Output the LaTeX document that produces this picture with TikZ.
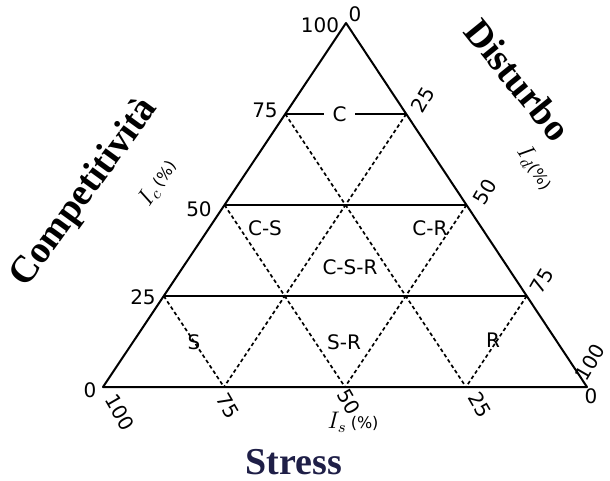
\documentclass[tikz,border=0pt]{standalone}
\usepackage{fontspec}
\setmainfont{Liberation Serif}
\newfontfamily\labfont{DejaVu Sans}
\usetikzlibrary{calc}
\definecolor{stressblue}{rgb}{0.12,0.12,0.28}

\tikzset{
  ticklab/.style={font=\labfont\fontsize{10}{12}\selectfont, inner sep=0pt},
  zone/.style={font=\labfont\fontsize{10}{12}\selectfont, inner sep=1pt},
  axislab/.style={font=\fontsize{12}{14}\selectfont, inner sep=0pt},
  bigtitle/.style={font=\bfseries\fontsize{19}{22}\selectfont, inner sep=0pt},
  gridline/.style={line width=0.85pt, dash pattern=on 1.8pt off 1.4pt},
  side/.style={line width=1pt, line join=round},
}
\newcommand{\pct}{{\labfont\fontsize{8}{9}\selectfont(\%)}}

\begin{document}
\begin{tikzpicture}[x=0.5pt,y=-0.5pt]
        \useasboundingbox (0,0) rectangle (610,481);

        \coordinate (A) at (103,387);
        \coordinate (B) at (587,387);
        \coordinate (T) at (346,23);
        \foreach \f/\n in {0.25/25,0.5/50,0.75/75} {
            \coordinate (l\n) at ($(A)!\f!(T)$);
            \coordinate (r\n) at ($(B)!\f!(T)$);
            \coordinate (b\n) at ($(A)!\f!(B)$);
        }

        % triangle and levels
        \draw[side] (A) -- (B) -- (T) -- cycle;
        \draw[side] (l25) -- (r25);
        \draw[side] (l50) -- (r50);
        \node[zone, inner sep=4pt] (c) at ($(l75)!0.45!(r75)$) {C};
        \draw[side] (l75) -- (c) -- (r75);

        \draw[gridline] (l75) -- (b75);
        \draw[gridline] (l50) -- (b50);
        \draw[gridline] (l25) -- (b25);
        \draw[gridline] (r75) -- (b25);
        \draw[gridline] (r50) -- (b50);
        \draw[gridline] (r25) -- (b75);

        % zones
        \node[zone] (cs) at (265,228) {C-S};
        \node[zone] (cr) at (430,228) {C-R};
        \node[zone] (csr) at (350,267) {C-S-R};
        \node[zone] (s) at (194,342) {S};
        \node[zone] (sr) at (344,342) {S-R};
        \node[zone] (r) at (493,340) {R};

        % left scale
        \node[ticklab] (lt100) at (320,25) {100};
        \node[ticklab] (lt75) at (265,110) {75};
        \node[ticklab] (lt50) at (199,209) {50};
        \node[ticklab] (lt25) at (143,297) {25};
        \node[ticklab] (lt0) at (90,390) {0};

        % right scale
        \node[ticklab] (rt0) at (355,14) {0};
        \node[ticklab, rotate=60] (rt25) at (423,100) {25};
        \node[ticklab, rotate=60] (rt50) at (485,192) {50};
        \node[ticklab, rotate=60] (rt75) at (542,281) {75};
        \node[ticklab, rotate=60] (rt100) at (590,362) {100};

        % bottom scale
        \node[ticklab, rotate=-60] (bt100) at (120,412) {100};
        \node[ticklab, rotate=-60] (bt75) at (228,406) {75};
        \node[ticklab, rotate=-60] (bt50) at (349,402) {50};
        \node[ticklab, rotate=-60] (bt25) at (480,405) {25};
        \node[ticklab] (bt0) at (591,396) {0};

        % axis names
        \node[axislab, rotate=56] (ic) at (158,183) {$I_c$\,\pct};
        \node[axislab, rotate=-56] (id) at (535,168) {$I_d$\pct};
        \node[axislab] (is) at (353,422) {$I_s$\,\pct};

        \node[bigtitle, rotate=54] (comp) at (85,193) {Competitività};
        \node[bigtitle, rotate=-51] (dist) at (518,80) {Disturbo};
        \node[bigtitle, text=stressblue] (stress) at (294,462) {Stress};

\end{tikzpicture}
\end{document}
